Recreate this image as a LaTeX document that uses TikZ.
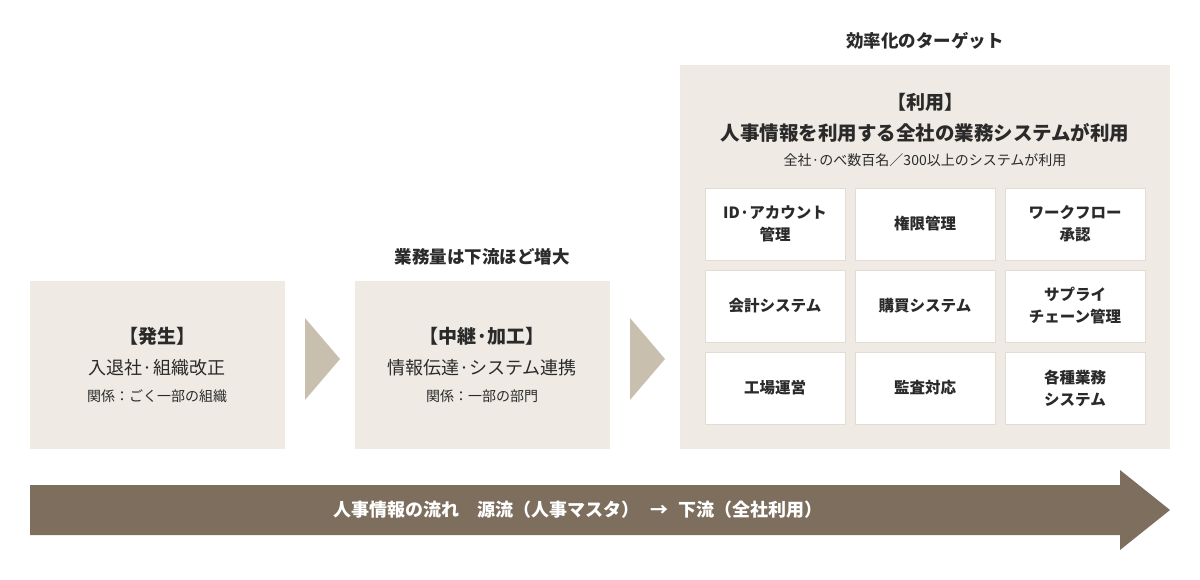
\documentclass[tikz,border=0pt]{standalone}
\usepackage{fontspec}
\setmainfont{Noto Sans CJK JP}
\begin{document}
\begin{tikzpicture}[x=1pt,y=-1pt,
  panel/.style={fill=bgbox,draw=none},
  cell/.style={fill=white,draw=cellline,line width=0.8pt},
  chev/.style={fill=chevc,draw=none},
  ttl/.style={font=\fontsize{17.5}{20}\selectfont\bfseries,text=txt},
  big/.style={font=\fontsize{18}{21}\selectfont,text=txt},
  small/.style={font=\fontsize{14}{16}\selectfont,text=txt},
  ct/.style={font=\fontsize{15.5}{22}\selectfont\bfseries,text=txt,align=center}]
\definecolor{bgbox}{HTML}{EFEBE4}
\definecolor{cellline}{HTML}{E2DCD2}
\definecolor{chevc}{HTML}{C9BFAE}
\definecolor{arr}{HTML}{7D6E5E}
\definecolor{txt}{HTML}{2A2A2A}
\useasboundingbox (0,0) rectangle (1200,580);
% boxes
\fill[panel] (30,281) rectangle (285,449);
\fill[panel] (355,281) rectangle (610,449);
\fill[panel] (680,65) rectangle (1170,449);
\fill[chev] (305,318) -- (340,359) -- (305,400) -- cycle;
\fill[chev] (630,318) -- (665,359) -- (630,400) -- cycle;
% box1
\node[ttl,font=\fontsize{19}{22}\selectfont\bfseries] (b1t) at (157,336) {【発生】};
\node[big] (b1a) at (157,368) {入退社·組織改正};
\node[small] (b1b) at (157,396) {関係：ごく一部の組織};
% box2
\node[ttl] (b2h) at (482,257) {業務量は下流ほど増大};
\node[ttl,font=\fontsize{19}{22}\selectfont\bfseries] (b2t) at (482,336) {【中継·加工】};
\node[big] (b2a) at (482,368) {情報伝達·システム連携};
\node[small] (b2b) at (482,396) {関係：一部の部門};
% box3
\node[ttl] (b3h) at (925,41) {効率化のターゲット};
\node[ttl,font=\fontsize{19}{22}\selectfont\bfseries] (b3t) at (925,102) {【利用】};
\node[font=\fontsize{19.5}{22}\selectfont\bfseries,text=txt] (b3a) at (925,133) {人事情報を利用する全社の業務システムが利用};
\node[small] (b3b) at (925,160) {全社·のべ数百名／300以上のシステムが利用};
% grid
\foreach \c/\x in {0/705,1/855,2/1005}{
  \foreach \r/\y in {0/188,1/270,2/352}{
    \draw[cell] (\x,\y) rectangle ++(140,72);
  }}
\node[ct] (g1) at (775,224) {ID·アカウント\\管理};
\node[ct] (g2) at (925,224) {権限管理};
\node[ct] (g3) at (1075,224) {ワークフロー\\承認};
\node[ct] (g4) at (775,306) {会計システム};
\node[ct] (g5) at (925,306) {購買システム};
\node[ct] (g6) at (1075,306) {サプライ\\チェーン管理};
\node[ct] (g7) at (775,388) {工場運営};
\node[ct] (g8) at (925,388) {監査対応};
\node[ct] (g9) at (1075,388) {各種業務\\システム};
% arrow
\fill[arr] (30,485) -- (1120,485) -- (1120,470) -- (1170,510) -- (1120,550) -- (1120,535) -- (30,535) -- cycle;
\node[font=\fontsize{18}{21}\selectfont\bfseries,text=white] (al) at (578,510) {人事情報の流れ\hspace{1em}源流（人事マスタ）\hspace{0.6em}→\hspace{0.6em}下流（全社利用）};
\end{tikzpicture}
\end{document}
